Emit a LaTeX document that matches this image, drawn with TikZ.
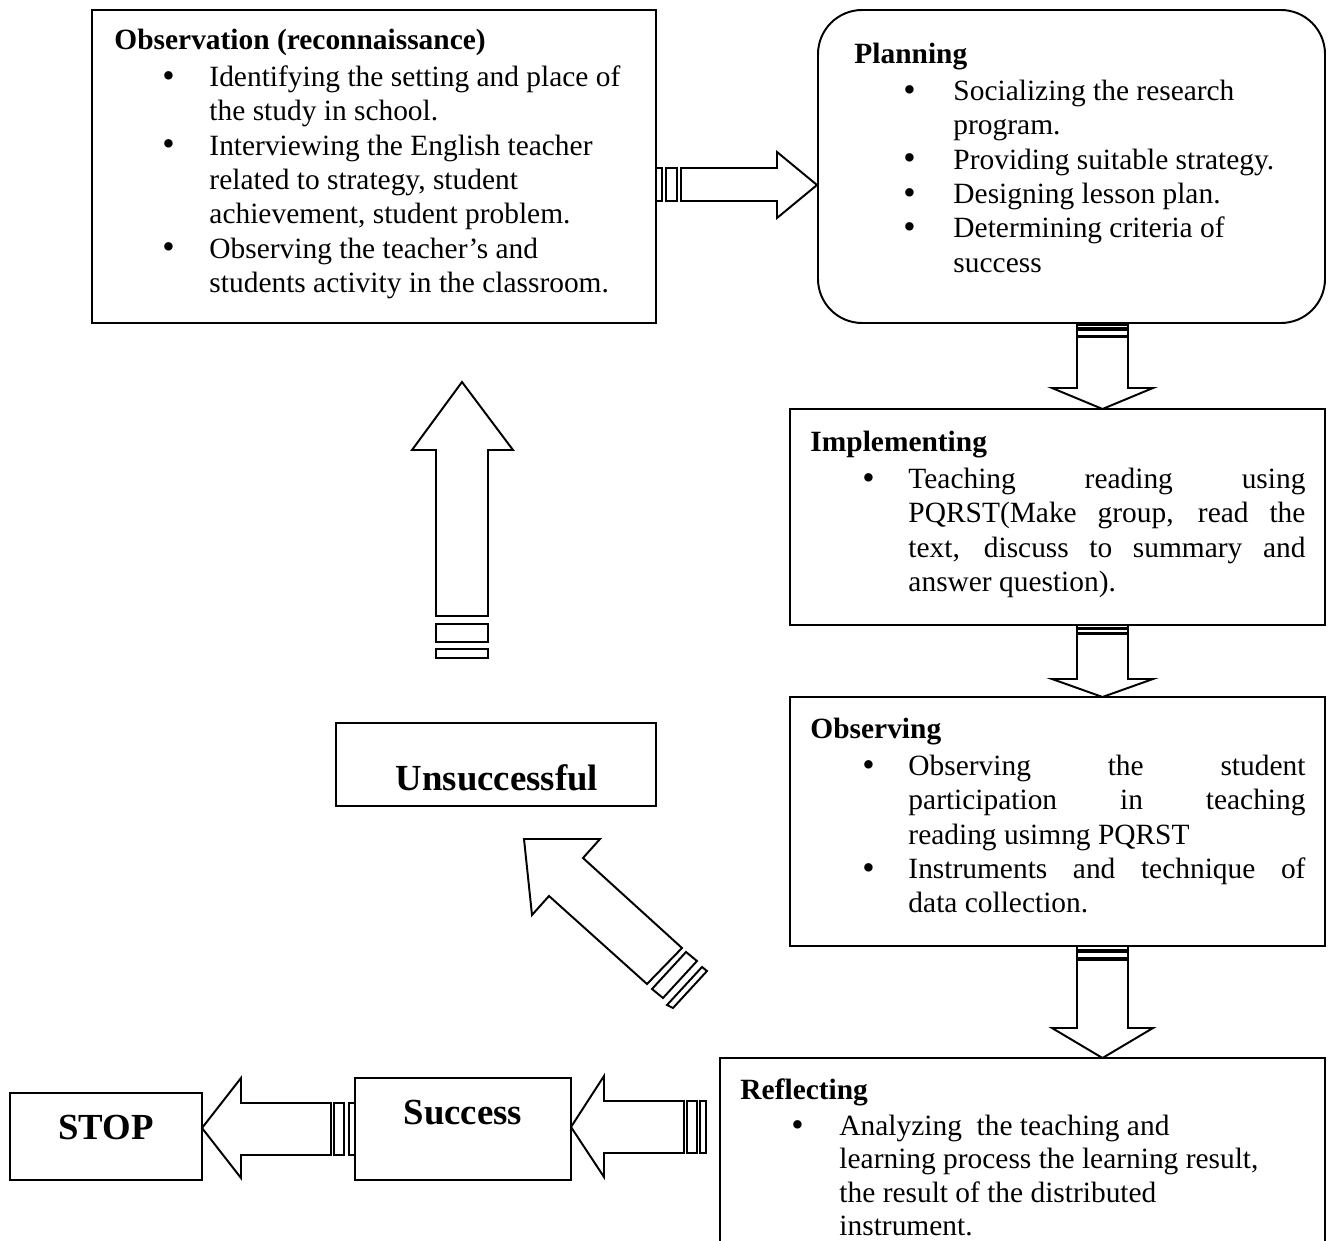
\documentclass[tikz,border=0pt]{standalone}
\usepackage{fontspec}
\setmainfont{Liberation Serif}
\usetikzlibrary{fit}
\newlength\pxl \setlength\pxl{0.408pt}
\newcommand\bul[2]{\makebox[#2\pxl][l]{\hspace*{\dimexpr#1\pxl-2.5pt\relax}\raisebox{-0.25pt}{\scalebox{1.2}{\textbullet}}}}
\newcommand\ind[1]{\hspace*{#1\pxl}}
\newcommand\jl[1]{\makebox[397\pxl][s]{#1}}
\newcommand\topstrut{\rule{0pt}{24\pxl}}
\begin{document}
\begin{tikzpicture}[x=0.408pt,y=-0.408pt,
  box/.style={draw, line width=0.8pt, inner sep=0pt},
  txt/.style={anchor=north west, align=left, inner sep=0pt, font=\fontsize{12}{14}\selectfont},
  big/.style={anchor=base, inner sep=0pt, font=\fontsize{15}{18}\selectfont\bfseries},
  barrow/.style={draw, fill=white, line width=0.8pt, line join=miter}]
\useasboundingbox (0,0) rectangle (1333,1241);
% boxes
\node[box, fit={(92,10)(656,323)}] (obs) {};
\node[box, rounded corners=18pt, fit={(818,10)(1325,323)}] (plan) {};
\node[box, fit={(790,409)(1325,625)}] (impl) {};
\node[box, fit={(790,697)(1325,946)}] (obsv) {};
\node[box, fit={(720,1058)(1325,1260)}] (refl) {};
\node[box, fit={(336,723)(656,806)}] (unsucc) {};
\node[box, fit={(355,1078)(571,1180)}] (succ) {};
\node[box, fit={(10,1093)(202,1180)}] (stop) {};
% texts (top = first baseline - 24px)
\node[txt] (obsT) at (114,25) {\topstrut\textbf{Observation (reconnaissance)}\\[1.1pt]
\bul{54}{95}Identifying the setting and place of\\
\ind{95}the study in school.\\
\bul{54}{95}Interviewing the English teacher\\
\ind{95}related to strategy, student\\
\ind{95}achievement, student problem.\\
\bul{54}{95}Observing the teacher’s and\\
\ind{95}students activity in the classroom.};
\node[txt] (planT) at (854,39) {\topstrut\textbf{Planning}\\[1.1pt]
\bul{55}{99}Socializing the research\\
\ind{99}program.\\
\bul{55}{99}Providing suitable strategy.\\
\bul{55}{99}Designing lesson plan.\\
\bul{55}{99}Determining criteria of\\
\ind{99}success};
\node[txt] (implT) at (810,427) {\topstrut\textbf{Implementing}\\[1.1pt]
\bul{58}{98}\jl{Teaching reading using}\\
\ind{98}\jl{PQRST(Make group, read the}\\
\ind{98}\jl{text, discuss to summary and}\\
\ind{98}answer question).};
\node[txt] (obsvT) at (810,714) {\topstrut\textbf{Observing}\\[1.1pt]
\bul{58}{98}\jl{Observing the student}\\
\ind{98}\jl{participation in teaching}\\
\ind{98}reading usimng PQRST\\
\bul{58}{98}\jl{Instruments and technique of}\\
\ind{98}data collection.};
\node[txt, font=\fontsize{12}{13.6}\selectfont] (reflT) at (740,1075) {\topstrut\textbf{Reflecting}\\[1.1pt]
\bul{57}{99}Analyzing\ \ the teaching and\\
\ind{99}learning process the learning result,\\
\ind{99}the result of the distributed\\
\ind{99}instrument.};
\node[big] (unsT) at (497,790) {Unsuccessful};
\node[big] (sucT) at (463,1124) {Success};
\node[big] (stopT) at (106,1139) {STOP};
% obs -> plan
\draw[barrow] (656,168) rectangle (662,201);
\draw[barrow] (666,168) rectangle (677,201);
\draw[barrow] (681,168) -- (777,168) -- (777,152) -- (817,185) -- (777,218) -- (777,201) -- (681,201) -- cycle;
% plan -> impl
\draw[barrow] (1077,325) rectangle (1128,328);
\draw[barrow] (1077,330) rectangle (1128,336);
\draw[barrow] (1077,337) -- (1077,388) -- (1052,388) -- (1102.5,409) -- (1153,388) -- (1128,388) -- (1128,337) -- cycle;
% impl -> obsv
\draw[barrow] (1077,625) rectangle (1128,628);
\draw[barrow] (1077,629.5) rectangle (1128,633);
\draw[barrow] (1077,634) -- (1077,679) -- (1052,679) -- (1102.5,697) -- (1153,679) -- (1128,679) -- (1128,634) -- cycle;
% obsv -> refl
\draw[barrow] (1077,946) rectangle (1128,950);
\draw[barrow] (1077,952) rectangle (1128,958);
\draw[barrow] (1077,960) -- (1077,1028) -- (1052,1028) -- (1102.5,1058) -- (1153,1028) -- (1128,1028) -- (1128,960) -- cycle;
% unsuccessful -> observation (up)
\draw[barrow] (436,616) -- (436,450) -- (412,450) -- (462,382) -- (513,450) -- (488,450) -- (488,616) -- cycle;
\draw[barrow] (436,624) rectangle (488,642);
\draw[barrow] (436,649) rectangle (488,658);
% reflecting -> unsuccessful (diagonal)
\draw[barrow] (647,984) -- (549,896) -- (532,915) -- (524,839) -- (600,839) -- (583,858) -- (682,948) -- cycle;
\draw[barrow] (652,989) -- (686,952) -- (697,961) -- (663,998) -- cycle;
\draw[barrow] (667,1005) -- (702,967) -- (707,971) -- (673,1008) -- cycle;
% success -> stop
\draw[barrow] (331,1103) -- (241,1103) -- (241,1078) -- (202,1128) -- (241,1178) -- (241,1155) -- (331,1155) -- cycle;
\draw[barrow] (334,1103) rectangle (344,1155);
\draw[barrow] (349,1103) rectangle (355,1155);
% reflecting -> success
\draw[barrow] (684,1101) -- (604,1101) -- (604,1076) -- (571,1127) -- (604,1177) -- (604,1153) -- (684,1153) -- cycle;
\draw[barrow] (687,1101) rectangle (697,1153);
\draw[barrow] (700,1101) rectangle (706,1153);
\end{tikzpicture}
\end{document}
